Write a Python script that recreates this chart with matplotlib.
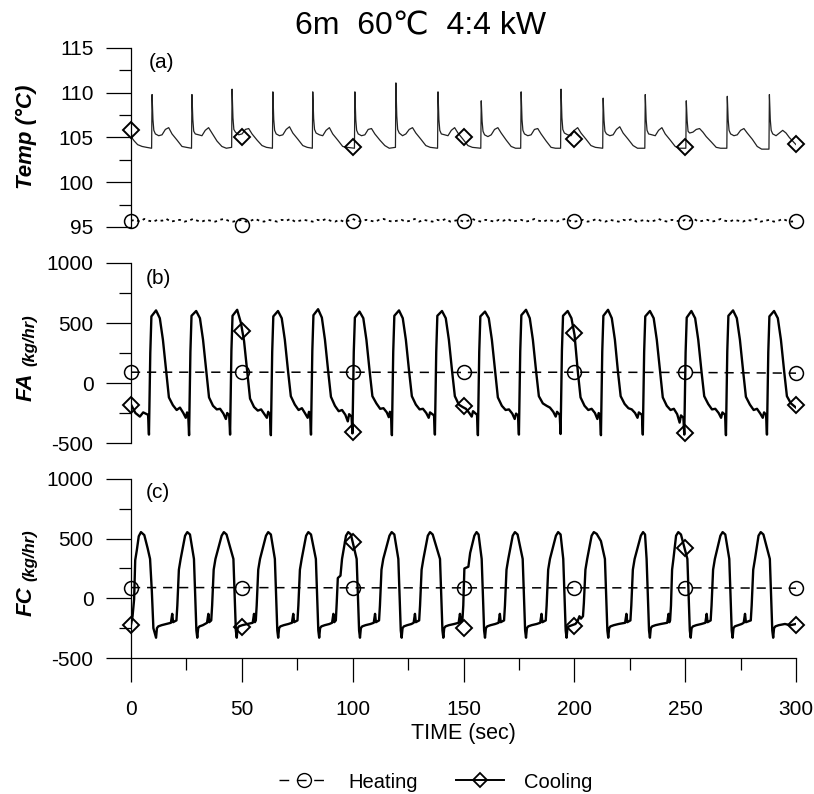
import numpy as np
import matplotlib.pyplot as plt
from matplotlib.lines import Line2D
from matplotlib.ticker import MultipleLocator

plt.rcParams['font.family'] = ['Liberation Sans', 'DejaVu Sans']
plt.rcParams['axes.unicode_minus'] = False

# --- Datos ---
# marcadores cada 50 s
t_marca = [0, 50, 100, 150, 200, 250, 300]

# (a) Temperatura - Heating (linea punteada con ruido, cada 2 s)
temp_heat = [
    95.7, 95.8, 95.6, 95.9, 95.7, 95.6, 95.8, 95.7, 95.9, 95.6,
    95.7, 95.8, 95.6, 95.7, 95.9, 95.7, 95.6, 95.8, 95.7, 95.6,
    95.8, 95.9, 95.7, 95.6, 95.7, 95.8, 95.6, 95.7, 95.9, 95.7,
    95.6, 95.8, 95.7, 95.6, 95.8, 95.7, 95.9, 95.6, 95.7, 95.8,
    95.7, 95.6, 95.8, 95.7, 95.9, 95.7, 95.6, 95.8, 95.6, 95.7,
    95.9, 95.7, 95.6, 95.8, 95.7, 95.6, 95.8, 95.9, 95.7, 95.6,
    95.7, 95.8, 95.6, 95.7, 95.9, 95.6, 95.8, 95.7, 95.6, 95.8,
    95.7, 95.9, 95.6, 95.7, 95.8, 95.6, 95.7, 95.9, 95.7, 95.6,
    95.8, 95.7, 95.6, 95.8, 95.7, 95.9, 95.6, 95.7, 95.8, 95.6,
    95.7, 95.9, 95.7, 95.6, 95.8, 95.7, 95.6, 95.8, 95.9, 95.7,
    95.6, 95.7, 95.8, 95.6, 95.7, 95.9, 95.7, 95.6, 95.8, 95.7,
    95.6, 95.8, 95.7, 95.9, 95.6, 95.7, 95.8, 95.6, 95.7, 95.9,
    95.7, 95.6, 95.8, 95.7, 95.6, 95.8, 95.7, 95.9, 95.6, 95.7,
    95.8, 95.6, 95.7, 95.9, 95.7, 95.6, 95.8, 95.7, 95.6, 95.8,
    95.7, 95.9, 95.6, 95.7, 95.8, 95.6, 95.7, 95.9, 95.7, 95.6,
    95.7]
t_temp_heat = np.arange(0, 301, 2)
temp_heat_marca = [95.7, 95.2, 95.7, 95.7, 95.7, 95.6, 95.7]

# (a) Temperatura - Cooling
t_temp_cool = [
    0, 0.6, 1.5, 3.0, 5.0, 7.0, 9.3,
    9.5, 9.9, 10.3, 11.0, 12.5, 14.0, 15.5, 17.0, 18.5, 20.8, 23.0, 25.0, 27.3,
    27.5, 27.9, 28.3, 29.0, 30.5, 32.0, 33.5, 35.0, 36.5, 38.8, 41.0, 43.0, 45.4,
    45.6, 46.0, 46.4, 47.1, 48.6, 50.1, 51.6, 53.1, 54.6, 56.9, 59.1, 61.1, 63.8,
    64.0, 64.4, 64.8, 65.5, 67.0, 68.5, 70.0, 71.5, 73.0, 75.3, 77.5, 79.5, 81.8,
    82.0, 82.4, 82.8, 83.5, 85.0, 86.5, 88.0, 89.5, 91.0, 93.3, 95.5, 97.5, 100.8,
    101.0, 101.4, 101.8, 102.5, 104.0, 105.5, 107.0, 108.5, 110.0, 112.3, 114.5, 116.5, 119.3,
    119.5, 119.9, 120.3, 121.0, 122.5, 124.0, 125.5, 127.0, 128.5, 130.8, 133.0, 135.0, 138.3,
    138.5, 138.9, 139.3, 140.0, 141.5, 143.0, 144.5, 146.0, 147.5, 149.8, 152.0, 154.0, 157.8,
    158.0, 158.4, 158.8, 159.5, 161.0, 162.5, 164.0, 165.5, 167.0, 169.3, 171.5, 173.5, 175.8,
    176.0, 176.4, 176.8, 177.5, 179.0, 180.5, 182.0, 183.5, 185.0, 187.3, 189.5, 191.5, 193.8,
    194.0, 194.4, 194.8, 195.5, 197.0, 198.5, 200.0, 201.5, 203.0, 205.3, 207.5, 209.5, 212.8,
    213.0, 213.4, 213.8, 214.5, 216.0, 217.5, 219.0, 220.5, 222.0, 224.3, 226.5, 228.5, 231.8,
    232.0, 232.4, 232.8, 233.5, 235.0, 236.5, 238.0, 239.5, 241.0, 243.3, 245.5, 247.5, 250.3,
    250.5, 250.9, 251.3, 252.0, 253.5, 255.0, 256.5, 258.0, 259.5, 261.8, 264.0, 266.0, 268.8,
    269.0, 269.4, 269.8, 270.5, 272.0, 273.5, 275.0, 276.5, 278.0, 280.3, 282.5, 284.5, 287.8,
    288.0, 288.4, 288.8, 289.5, 291.0, 292.5, 294.0, 295.5, 297.0, 298.5, 300.0]
temp_cool = [
    105.7, 104.9, 104.6, 104.2, 104.0, 103.9, 103.8,
    109.8, 107.0, 105.8, 105.4, 105.2, 105.3, 105.9, 106.1, 105.4, 104.7, 104.0, 103.9, 103.8,
    109.8, 107.0, 105.7, 105.4, 105.3, 105.2, 105.8, 106.1, 105.5, 104.6, 104.0, 103.8, 103.9,
    110.4, 107.2, 105.9, 105.6, 105.3, 105.4, 105.9, 106.0, 105.4, 104.7, 104.1, 103.9, 103.8,
    110.1, 107.0, 105.8, 105.4, 105.2, 105.3, 105.9, 106.2, 105.5, 104.8, 104.1, 103.9, 103.8,
    110.1, 107.1, 105.9, 105.5, 105.3, 105.2, 105.8, 106.1, 105.4, 104.7, 104.0, 103.9, 103.8,
    110.1, 107.0, 105.8, 105.4, 105.2, 105.3, 105.9, 106.0, 105.4, 104.7, 104.1, 103.8, 103.9,
    111.1, 107.4, 105.9, 105.5, 105.2, 105.4, 105.9, 106.1, 105.5, 104.8, 104.1, 103.9, 103.8,
    110.1, 107.0, 105.8, 105.4, 105.3, 105.2, 105.8, 106.1, 105.5, 104.8, 104.1, 103.9, 103.8,
    109.1, 106.8, 105.7, 105.3, 105.1, 105.3, 105.9, 106.1, 105.5, 104.7, 104.0, 103.8, 103.8,
    110.1, 107.0, 105.8, 105.4, 105.2, 105.3, 105.9, 106.0, 105.4, 104.6, 103.9, 103.8, 103.8,
    110.4, 107.2, 105.9, 105.5, 105.3, 105.2, 105.8, 106.1, 105.5, 104.8, 104.1, 103.9, 103.8,
    109.4, 106.9, 105.7, 105.4, 105.2, 105.3, 105.9, 106.2, 105.5, 104.8, 104.1, 103.8, 103.8,
    109.8, 107.0, 105.8, 105.4, 105.3, 105.2, 105.8, 106.1, 105.4, 104.7, 104.0, 103.8, 103.8,
    109.1, 106.9, 105.7, 105.5, 105.6, 105.9, 106.0, 105.6, 105.1, 104.5, 103.9, 103.8, 103.8,
    109.6, 107.0, 105.8, 105.4, 105.2, 105.3, 105.8, 106.0, 105.5, 104.8, 104.0, 103.7, 103.7,
    109.8, 107.0, 105.8, 105.4, 105.2, 105.5, 105.8, 105.5, 105.0, 104.6, 104.2]
temp_cool_marca = [105.8, 105.0, 103.9, 105.1, 104.8, 103.9, 104.3]

# (b) FA - Heating (casi constante) y Cooling
fa_heat = [90, 90, 90, 88, 90, 88, 82]
t_fa_cool = [
    0, 2, 4, 5.5, 7.7,
    8.1, 8.7, 9.2, 11.3, 13.0, 14.4, 15.9, 17.1, 18.9, 20.6, 22.1, 23.6, 24.7, 25.3, 25.8,
    26.2, 26.8, 27.3, 29.4, 31.1, 32.5, 34.0, 35.2, 37.0, 38.7, 40.2, 41.7, 42.8, 43.4, 44.3,
    44.7, 45.3, 45.8, 47.9, 49.6, 51.0, 52.5, 53.7, 55.5, 57.2, 58.7, 60.2, 61.3, 61.9, 62.7,
    63.1, 63.7, 64.2, 66.3, 68.0, 69.4, 70.9, 72.1, 73.9, 75.6, 77.1, 78.6, 79.7, 80.3, 80.8,
    81.2, 81.8, 82.3, 84.4, 86.1, 87.5, 89.0, 90.2, 92.0, 93.7, 95.2, 96.7, 97.8, 98.4, 99.5,
    99.9, 100.5, 101.0, 103.1, 104.8, 106.2, 107.7, 108.9, 110.7, 112.4, 113.9, 115.4, 116.3, 116.8, 117.3,
    117.7, 118.3, 118.8, 120.9, 122.6, 124.0, 125.5, 126.7, 128.5, 130.2, 131.7, 133.2, 134.3, 134.9, 136.7,
    137.1, 137.7, 138.2, 140.3, 142.0, 143.4, 144.9, 146.1, 147.9, 149.6, 151.1, 152.6, 153.7, 154.3, 156.1,
    156.5, 157.1, 157.6, 159.7, 161.4, 162.8, 164.3, 165.5, 167.3, 169.0, 170.5, 172.0, 173.1, 173.7, 174.6,
    175.0, 175.6, 176.1, 178.2, 179.9, 181.3, 182.8, 184.0, 185.8, 187.5, 189.0, 190.5, 191.6, 192.2, 193.4,
    193.8, 194.4, 194.9, 197.0, 198.7, 200.1, 201.6, 202.8, 204.6, 206.3, 207.8, 209.3, 210.4, 211.0, 211.6,
    212.0, 212.6, 213.1, 215.2, 216.9, 218.3, 219.7, 220.9, 222.7, 224.4, 225.9, 227.4, 228.5, 229.1, 230.5,
    230.9, 231.5, 232.0, 234.1, 235.8, 237.2, 238.7, 239.9, 241.7, 243.4, 244.9, 246.4, 247.5, 248.1, 249.2,
    249.6, 250.2, 250.7, 252.8, 254.5, 255.9, 257.4, 258.6, 260.4, 262.1, 263.6, 265.1, 266.2, 266.8, 268.0,
    268.4, 269.0, 269.5, 271.6, 273.3, 274.7, 276.2, 277.4, 279.2, 280.9, 282.4, 283.9, 285.0, 285.6, 286.5,
    286.9, 287.5, 288.0, 290.1, 291.8, 293.2, 294.7, 295.9, 297.7, 300.0]
fa_cool = [
    -180, -250, -280, -245, -265,
    -430, 250, 555, 605, 540, 360, 90, -120, -185, -225, -205, -250, -290, -245, -265,
    -435, 260, 560, 600, 540, 360, 90, -120, -190, -220, -215, -255, -300, -250, -270,
    -430, 270, 560, 610, 500, 350, 80, -130, -200, -230, -220, -260, -290, -240, -265,
    -435, 260, 555, 600, 540, 360, 90, -110, -180, -225, -210, -255, -290, -240, -265,
    -430, 270, 565, 615, 545, 360, 90, -115, -190, -235, -225, -265, -320, -260, -280,
    -420, 260, 545, 595, 540, 360, 90, -110, -170, -215, -210, -245, -285, -240, -260,
    -435, 260, 560, 605, 540, 360, 90, -110, -180, -220, -215, -250, -290, -245, -270,
    -430, 260, 560, 600, 540, 360, 90, -110, -180, -200, -215, -250, -280, -235, -265,
    -435, 260, 555, 595, 540, 360, 90, -120, -190, -225, -220, -255, -300, -255, -270,
    -430, 265, 565, 610, 540, 360, 90, -110, -170, -190, -205, -240, -280, -240, -265,
    -425, 270, 560, 600, 540, 400, 90, -120, -190, -225, -215, -250, -300, -250, -270,
    -435, 265, 560, 610, 540, 360, 90, -110, -175, -210, -220, -250, -290, -245, -265,
    -430, 260, 555, 600, 540, 360, 90, -120, -190, -225, -215, -260, -330, -270, -290,
    -430, 255, 545, 600, 540, 360, 90, -110, -175, -220, -215, -250, -290, -245, -265,
    -435, 265, 560, 605, 540, 360, 90, -115, -180, -225, -215, -255, -290, -245, -265,
    -430, 260, 555, 600, 540, 360, 90, -110, -170, -205]
fa_cool_marca = [-180, 430, -410, -190, 420, -420, -180]

# (c) FC - Heating y Cooling
fc_heat = [90, 90, 88, 88, 88, 88, 85]
t_fc_cool = [
    0, 0.7, 1.4, 1.9, 2.6, 3.5, 4.5, 6.0, 7.5, 8.6, 9.4, 10.1,
    11.3, 11.7, 12.3, 13.8, 16.0, 18.0, 18.6, 19.0, 20.5, 20.9, 21.6, 22.4, 24.4, 25.4, 26.6, 28.4, 29.0, 29.5,
    29.9, 30.3, 30.9, 32.4, 34.3, 34.9, 35.3, 36.2, 36.6, 37.3, 38.1, 40.9, 41.9, 43.1, 46.2, 46.8, 47.3,
    47.7, 48.1, 48.7, 50.2, 52.5, 54.9, 55.5, 55.9, 56.3, 56.7, 57.4, 58.2, 60.9, 61.9, 63.1, 64.9, 65.5, 66.0,
    66.4, 66.8, 67.4, 68.9, 71.0, 72.6, 73.2, 73.6, 75.1, 75.5, 76.2, 77.0, 79.0, 80.0, 81.2, 83.4, 84.0, 84.5,
    84.9, 85.3, 85.9, 87.4, 89.5, 90.7, 91.3, 91.7, 92.4, 92.8, 93.3, 94.5, 95.2, 97.0, 98.0, 99.2, 101.8, 102.4, 102.9,
    103.3, 103.7, 104.3, 105.8, 108.0, 109.5, 110.1, 110.5, 111.9, 112.3, 113.0, 113.8, 116.6, 117.6, 118.8, 120.6, 121.2, 121.7,
    122.1, 122.5, 123.1, 124.6, 126.5, 127.5, 128.1, 128.5, 130.0, 130.4, 131.1, 131.9, 133.9, 134.9, 136.1, 139.4, 140.0, 140.5,
    140.9, 141.3, 141.9, 143.4, 145.8, 147.8, 148.4, 148.8, 149.5, 149.9, 150.4, 152.2, 153.0, 154.9, 155.9, 156.8, 158.2, 158.8, 159.3,
    159.7, 160.1, 160.7, 162.2, 164.3, 165.8, 166.4, 166.8, 168.3, 168.7, 169.4, 170.2, 172.2, 173.2, 174.4, 176.7, 177.3, 177.8,
    178.2, 178.6, 179.2, 180.7, 183.0, 184.6, 185.2, 185.6, 187.1, 187.5, 188.2, 189.0, 191.7, 192.7, 193.8, 195.0, 195.6, 196.1,
    196.5, 196.9, 197.5, 199.0, 200.5, 201.5, 202.3, 203.0, 203.9, 204.3, 205.0, 205.8, 207.8, 208.8, 210.1, 212.0, 213.8, 214.4, 214.9,
    215.3, 215.7, 216.3, 217.8, 220.0, 222.9, 223.5, 223.9, 225.3, 225.7, 226.4, 227.2, 230.0, 231.0, 231.9, 232.6, 233.2, 233.7,
    234.1, 234.5, 235.1, 236.6, 239.0, 241.9, 242.5, 242.9, 243.2, 243.6, 244.1, 244.7, 245.9, 246.9, 248.1, 251.0, 251.6, 252.1,
    252.5, 252.9, 253.5, 255.0, 257.3, 259.1, 259.7, 260.1, 261.5, 261.9, 262.6, 263.4, 265.9, 266.9, 268.1, 269.9, 270.5, 271.0,
    271.4, 271.8, 272.4, 273.9, 275.5, 276.4, 277.0, 277.4, 279.6, 280.0, 280.7, 281.5, 283.1, 284.1, 285.3, 288.2, 288.8, 289.3,
    289.7, 290.1, 290.7, 292.2, 295.0, 297.5, 300.0]
fc_cool = [
    -220, -150, -10, 320, 400, 520, 555, 530, 420, 330, 60, -250,
    -330, -250, -235, -225, -215, -205, -130, -200, -185, -60, 240, 330, 525, 555, 535, 330, 0, -270,
    -330, -250, -235, -225, -205, -130, -200, -185, -60, 240, 330, 525, 555, 535, 330, 0, -270,
    -330, -250, -235, -225, -215, -205, -130, -200, -185, -60, 240, 330, 525, 555, 535, 330, 0, -270,
    -330, -250, -235, -225, -215, -205, -130, -200, -185, -60, 240, 330, 525, 555, 535, 330, 0, -270,
    -330, -250, -235, -225, -215, -205, -130, -200, -185, -40, 170, 190, 330, 525, 555, 535, 330, 0, -270,
    -330, -250, -235, -225, -215, -205, -130, -200, -185, -60, 240, 330, 525, 555, 535, 330, 0, -270,
    -330, -250, -235, -225, -215, -205, -130, -200, -185, -60, 240, 330, 525, 555, 535, 330, 0, -270,
    -330, -250, -235, -225, -215, -205, -130, -200, -185, -60, 250, 265, 380, 525, 555, 535, 330, 0, -270,
    -330, -250, -235, -225, -215, -205, -130, -200, -185, -60, 240, 330, 525, 555, 535, 330, 0, -270,
    -330, -250, -235, -225, -215, -205, -130, -200, -185, -60, 240, 330, 525, 555, 535, 330, 0, -270,
    -330, -250, -235, -225, -215, -190, -150, -170, -150, -40, 240, 330, 525, 555, 540, 480, 330, 0, -270,
    -330, -250, -235, -225, -215, -205, -130, -200, -185, -60, 240, 330, 525, 555, 535, 330, 0, -270,
    -330, -250, -235, -225, -215, -205, -130, -200, -185, -60, 240, 330, 525, 555, 535, 330, 0, -270,
    -330, -250, -235, -225, -215, -205, -130, -200, -185, -60, 240, 330, 525, 555, 535, 330, 0, -270,
    -330, -250, -235, -225, -215, -205, -130, -200, -185, -60, 240, 330, 525, 555, 535, 330, 0, -270,
    -330, -250, -235, -225, -215, -225, -215]
fc_cool_marca = [-220, -240, 475, -245, -230, 425, -220]

# --- Figura ---
W, H = 814, 794
fig = plt.figure(figsize=(W / 100, H / 100), dpi=100)

def caja(top, bottom):
    # posicion del eje en pixeles de la imagen
    return [131 / W, 1 - bottom / H, 665 / W, (bottom - top) / H]

ax_a = fig.add_axes(caja(48, 227))
ax_b = fig.add_axes(caja(263, 443))
ax_c = fig.add_axes(caja(479, 658))

estilo_heat = dict(color='black', lw=1.1, ls=(0, (6, 4.5)))
mk_circ = dict(marker='o', ms=10, mfc='none', mec='black', mew=1.1, ls='none', clip_on=False, zorder=6)
mk_diam = dict(marker='D', ms=8, mfc='none', mec='black', mew=1.4, ls='none', clip_on=False, zorder=6)

# (a)
ax_a.plot(t_temp_heat, temp_heat, color='black', lw=1.3, ls=(0, (1.5, 2)))
ax_a.plot(t_temp_cool, temp_cool, color='#222222', lw=0.9)
ax_a.plot(t_marca, temp_heat_marca, **mk_circ)
ax_a.plot(t_marca, temp_cool_marca, **mk_diam)
ax_a.set_ylim(95, 115)
ax_a.yaxis.set_major_locator(MultipleLocator(5))
ax_a.yaxis.set_minor_locator(MultipleLocator(2.5))

# (b)
ax_b.plot(t_marca, fa_heat, **estilo_heat)
ax_b.plot(t_fa_cool, fa_cool, color='black', lw=1.7)
ax_b.plot(t_marca, fa_heat, **mk_circ)
ax_b.plot(t_marca, fa_cool_marca, **mk_diam)

# (c)
ax_c.plot(t_marca, fc_heat, **estilo_heat)
ax_c.plot(t_fc_cool, fc_cool, color='black', lw=1.7)
ax_c.plot(t_marca, fc_heat, **mk_circ)
ax_c.plot(t_marca, fc_cool_marca, **mk_diam)

for ax in (ax_b, ax_c):
    ax.set_ylim(-500, 1000)
    ax.yaxis.set_major_locator(MultipleLocator(500))
    ax.yaxis.set_minor_locator(MultipleLocator(250))

for ax in (ax_a, ax_b, ax_c):
    ax.set_xlim(0, 300)
    ax.xaxis.set_major_locator(MultipleLocator(50))
    ax.xaxis.set_minor_locator(MultipleLocator(25))
    for s in ('top', 'right'):
        ax.spines[s].set_visible(False)
    ax.spines['left'].set_linewidth(0.9)
    ax.spines['bottom'].set_linewidth(0.9)
    ax.tick_params(axis='y', which='major', length=18, width=0.9, pad=9, labelsize=15)
    ax.tick_params(axis='y', which='minor', length=8.6, width=0.9)
    ax.tick_params(axis='x', which='major', length=17, width=0.9, pad=13, labelsize=15)
    ax.tick_params(axis='x', which='minor', length=8.6, width=0.9)
    ax.set_facecolor('none')

for ax in (ax_a, ax_b):
    ax.spines['bottom'].set_visible(False)
    ax.tick_params(axis='x', which='both', bottom=False, labelbottom=False)

ax_c.set_xlabel('TIME (sec)', fontsize=15.5, labelpad=3)

# letras de panel
fig.text(149 / W, 1 - 63 / H, '(a)', fontsize=15, ha='left', va='center')
fig.text(146 / W, 1 - 278 / H, '(b)', fontsize=15, ha='left', va='center')
fig.text(146 / W, 1 - 493 / H, '(c)', fontsize=15, ha='left', va='center')

# etiquetas de eje y
fig.text(26 / W, 1 - 137 / H, 'Temp (\u00b0C)', rotation=90, fontsize=16,
         fontweight='bold', fontstyle='italic', ha='center', va='center')
fig.text(26 / W, 1 - 401 / H, 'FA', rotation=90, fontsize=16,
         fontweight='bold', fontstyle='italic', ha='center', va='bottom')
fig.text(30 / W, 1 - 366 / H, '(kg/hr)', rotation=90, fontsize=12,
         fontweight='bold', fontstyle='italic', ha='center', va='bottom')
fig.text(26 / W, 1 - 616 / H, 'FC', rotation=90, fontsize=16,
         fontweight='bold', fontstyle='italic', ha='center', va='bottom')
fig.text(30 / W, 1 - 581 / H, '(kg/hr)', rotation=90, fontsize=12,
         fontweight='bold', fontstyle='italic', ha='center', va='bottom')

# titulo
fig.text(421 / W, 1 - 26 / H, '6m  60\u2103  4:4 kW', fontsize=23, ha='center', va='center')

# leyenda
h_heat = Line2D([], [], color='black', lw=1.0, ls=(0, (7, 5.5)), marker='o', ms=10,
                mfc='none', mec='black', mew=1.0)
h_cool = Line2D([], [], color='black', lw=1.4, marker='D', ms=7, mfc='none', mec='black', mew=1.3)
fig.legend([h_heat, h_cool], ['Heating', 'Cooling'], loc='center', ncol=2,
           bbox_to_anchor=(436 / W, 1 - 782 / H), frameon=False, fontsize=14.5,
           handlelength=2.4, handletextpad=1.0, columnspacing=1.9)

fig.savefig('out.png', dpi=100)
